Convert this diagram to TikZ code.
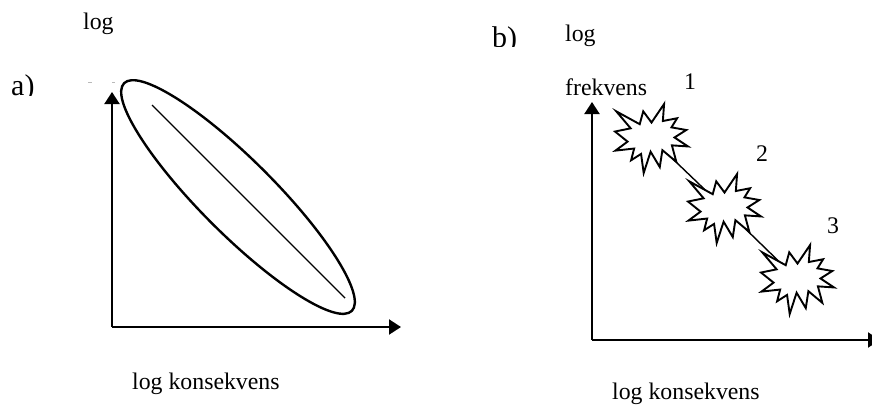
\documentclass[tikz,border=0pt]{standalone}
\usepackage{fontspec}
\setmainfont{Liberation Serif}
\usetikzlibrary{arrows.meta}
\begin{document}
\begin{tikzpicture}[x=1pt,y=-1pt,
  axisline/.style={line width=2pt,-{Triangle[length=12pt,width=15pt]}},
  ell/.style={line width=2.4pt},
  thinline/.style={line width=1.4pt},
  burstline/.style={line width=1.9pt, fill=white, line join=miter},
  lab/.style={anchor=base west, inner sep=0pt, font=\fontsize{23.8}{28}\selectfont},
  big/.style={anchor=base west, inner sep=0pt, font=\fontsize{30}{34}\selectfont},
  burst/.pic={
    \draw[burstline] (36.5,18.53) -- (49.08,0) -- (47.84,17.01) -- (62.12,14.24)
      -- (56.45,23.37) -- (71.30,25.99) -- (59.50,33.46) -- (73.0,42.45)
      -- (56.90,41.34) -- (61.32,57.80) -- (47.38,46.18) -- (44.77,63.05)
      -- (35.59,47.71) -- (28.68,69.0) -- (26.07,49.92) -- (16.09,56.28)
      -- (19.15,44.52) -- (0.46,46.60) -- (12.58,37.61) -- (0,27.52)
      -- (15.64,24.33) -- (1.25,7.33) -- (24.71,20.19) -- (28.23,7.33) -- cycle;
  }
]
\useasboundingbox (0,0) rectangle (872,405);

% ---------- panel a ----------
\begin{scope}
  \clip (0,0) rectangle (80,95.5);
  \node[big] (alabel) at (11,95) {a)};
\end{scope}
\node[lab] (alog) at (83,29) {log};
\node[lab] (akons) at (132,389) {log konsekvens};
\draw[gray!55, line width=0.8pt] (88,82) -- (92,82);
\draw[gray!55, line width=0.8pt] (112,82) -- (114.5,82);

\coordinate (aO) at (112,327);
\coordinate (aY) at (112,92);
\coordinate (aX) at (401,327);
\draw[axisline] (aO) -- (aY);
\draw[axisline] (aO) -- (aX);

\coordinate (ec) at (238,197);
\draw[ell, rotate around={-45:(ec)}] (ec) ellipse [x radius=161, y radius=37];
\coordinate (l1) at (152,105);
\coordinate (l2) at (345,298);
\draw[thinline] (l1) -- (l2);

% ---------- panel b ----------
\begin{scope}
  \clip (480,0) rectangle (545,46);
  \node[big] (blabel) at (492,47.5) {b)};
\end{scope}
\node[lab] (blog) at (565,41) {log};
\node[lab] (bfrek) at (565,95) {frekvens};
\node[lab] (n1) at (684,89) {1};
\node[lab] (n2) at (756,161) {2};
\node[lab] (n3) at (827,233) {3};
\node[lab] (bkons) at (612,399) {log konsekvens};

\coordinate (bO) at (592,340);
\coordinate (bY) at (592,102);
\coordinate (bX) at (880,340);
\draw[axisline] (bO) -- (bY);
\draw[axisline] (bO) -- (bX);

\coordinate (b1) at (651.5,138.5);
\coordinate (b2) at (724.5,208.5);
\coordinate (b3) at (797.5,279.5);
\draw[thinline] (b1) -- (b2) -- (b3);
\pic at (615,104) {burst};
\pic at (688,174) {burst};
\pic at (761,245) {burst};
\end{tikzpicture}
\end{document}
